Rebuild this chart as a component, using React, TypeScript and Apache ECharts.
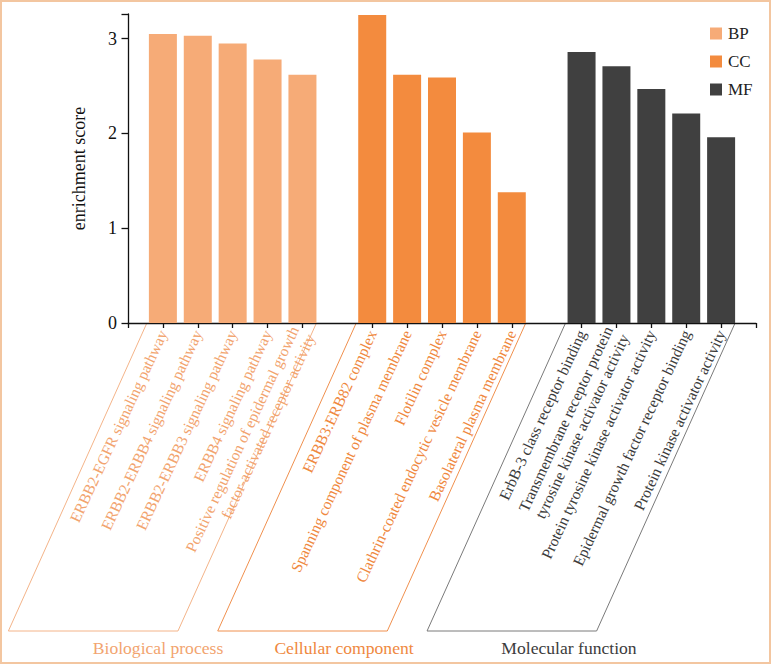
import React, { useEffect, useRef } from "react";
import * as echarts from "echarts";

const bpTerms = [
  "ERBB2-EGFR signaling pathway",
  "ERBB2-ERBB4 signaling pathway",
  "ERBB2-ERBB3 signaling pathway",
  "ERBB4 signaling pathway",
  "Positive regulation of epidermal growth\nfactor-activated receptor activity",
];
const bpScores = [3.05, 3.03, 2.95, 2.78, 2.62];

const ccTerms = [
  "ERBB3:ERB82 complex",
  "Spanning component of plasma membrane",
  "Flotilin complex",
  "Clathrin-coated endocytic vesicle membrane",
  "Basolateral plasma membrane",
];
const ccScores = [3.25, 2.62, 2.59, 2.01, 1.38];

const mfTerms = [
  "ErbB-3 class receptor binding",
  "Transmembrane receptor protein\ntyrosine kinase activator activity",
  "Protein tyrosine kinase activator activity",
  "Epidermal growth factor receptor binding",
  "Protein kinase activator activity",
];
const mfScores = [2.86, 2.71, 2.47, 2.21, 1.96];

const groupNames = ["BP", "CC", "MF"];
const groupTitles = ["Biological process", "Cellular component", "Molecular function"];
const yTicks = [0, 1, 2, 3];

const barColors = ["#F6AB77", "#F38B3E", "#404040"];
const labelColors = ["#F2A46F", "#EF8840", "#3C3C3C"];
const boxColors = ["#F4B489", "#F0904E", "#7A7A7A"];
const FONT = "'Liberation Serif', 'DejaVu Serif', serif";

export default function App() {
  const ref = useRef<HTMLDivElement>(null);

  useEffect(() => {
    if (!ref.current) return;
    const chart = echarts.init(ref.current, null, { renderer: "svg" });

    const termGroups = [bpTerms, ccTerms, mfTerms];
    const scoreGroups = [bpScores, ccScores, mfScores];
    // layout: blank, 5 BP, blank, 5 CC, blank, 5 MF, blank
    const categories: string[] = [" "];
    const groupOfIndex: number[] = [-1];
    const groupIdx: number[][] = [[], [], []];
    termGroups.forEach((terms, g) => {
      terms.forEach((t) => {
        groupIdx[g].push(categories.length);
        categories.push(t);
        groupOfIndex.push(g);
      });
      categories.push(" ".repeat(g + 2));
      groupOfIndex.push(-1);
    });
    const blankIdx = new Set<number>();
    groupOfIndex.forEach((g, i) => {
      if (g === -1 && i !== 0 && i !== categories.length - 1) blankIdx.add(i);
    });

    const series = groupNames.map((name, g) => {
      const data: (number | string)[] = categories.map(() => "-");
      groupIdx[g].forEach((ci, k) => {
        data[ci] = scoreGroups[g][k];
      });
      return {
        name,
        type: "bar",
        stack: "all",
        barWidth: 28,
        data,
        itemStyle: { color: barColors[g] },
      };
    });

    chart.setOption({
      animation: false,
      backgroundColor: "#ffffff",
      textStyle: { fontFamily: FONT },
      grid: { left: 128, right: 15, top: 14, bottom: 341, containLabel: false },
      legend: {
        data: groupNames,
        orient: "vertical",
        left: 705,
        top: 20,
        itemWidth: 12,
        itemHeight: 12,
        itemGap: 11,
        icon: "rect",
        textStyle: { fontFamily: FONT, fontSize: 17, color: "#222", padding: [0, 0, 0, 1] },
      },
      xAxis: {
        type: "category",
        data: categories,
        boundaryGap: false,
        axisLine: { lineStyle: { color: "#111", width: 1.3 } },
        axisTick: {
          show: true,
          length: 5,
          lineStyle: { color: "#111", width: 1.3 },
          interval: (index: number) => !blankIdx.has(index),
        },
        axisLabel: {
          interval: 0,
          rotate: 65,
          margin: 8,
          fontFamily: FONT,
          fontSize: 15.5,
          lineHeight: 18,
          color: (_v: string, index: number) => {
            const g = groupOfIndex[index];
            return g >= 0 ? labelColors[g] : "#000";
          },
        },
        splitLine: { show: false },
      },
      yAxis: {
        type: "value",
        min: 0,
        max: 3.26,
        interval: 1,
        name: "enrichment score",
        nameLocation: "middle",
        nameGap: 40,
        nameTextStyle: { fontFamily: FONT, fontSize: 18, color: "#111" },
        axisLine: { show: true, lineStyle: { color: "#111", width: 1.3 } },
        axisTick: { show: true, length: 6.5, lineStyle: { color: "#111", width: 1.3 } },
        axisLabel: {
          fontFamily: FONT,
          fontSize: 18,
          color: "#111",
          margin: 11,
          formatter: (v: number) => (yTicks.indexOf(v) >= 0 ? String(v) : ""),
        },
        splitLine: { show: false },
      },
      series,
    });

    // decorations: parallelogram boxes under each group, group titles, frame
    const y0 = chart.convertToPixel({ yAxisIndex: 0 }, 0) as number;
    const bottomY = 631;
    const dx = 138.5;
    const titleX = [158, 344, 569];
    const graphics: any[] = [];
    groupIdx.forEach((idxs, g) => {
      const xl = (chart.convertToPixel({ xAxisIndex: 0 }, idxs[0]) as number) - 16;
      const xr = (chart.convertToPixel({ xAxisIndex: 0 }, idxs[idxs.length - 1]) as number) + 14;
      graphics.push({
        type: "polyline",
        silent: true,
        shape: {
          points: [
            [xl, y0],
            [xl - dx, bottomY],
            [xr - dx, bottomY],
            [xr, y0],
          ],
        },
        style: { stroke: boxColors[g], lineWidth: 1, fill: "none" },
      });
      graphics.push({
        type: "text",
        silent: true,
        x: titleX[g],
        y: 648,
        style: {
          text: groupTitles[g],
          fontFamily: FONT,
          fontSize: 17.6,
          fill: labelColors[g],
          textAlign: "center",
          textVerticalAlign: "middle",
        },
      });
    });
    graphics.push({
      type: "rect",
      silent: true,
      shape: { x: 1, y: 1, width: 769, height: 662 },
      style: { stroke: "#F3C6A0", lineWidth: 2, fill: "none" },
    });
    chart.setOption({ graphic: graphics });

    return () => chart.dispose();
  }, []);

  return (
    <div
      ref={ref}
      style={{ position: "fixed", left: 0, top: 0, width: 771, height: 664 }}
    />
  );
}
